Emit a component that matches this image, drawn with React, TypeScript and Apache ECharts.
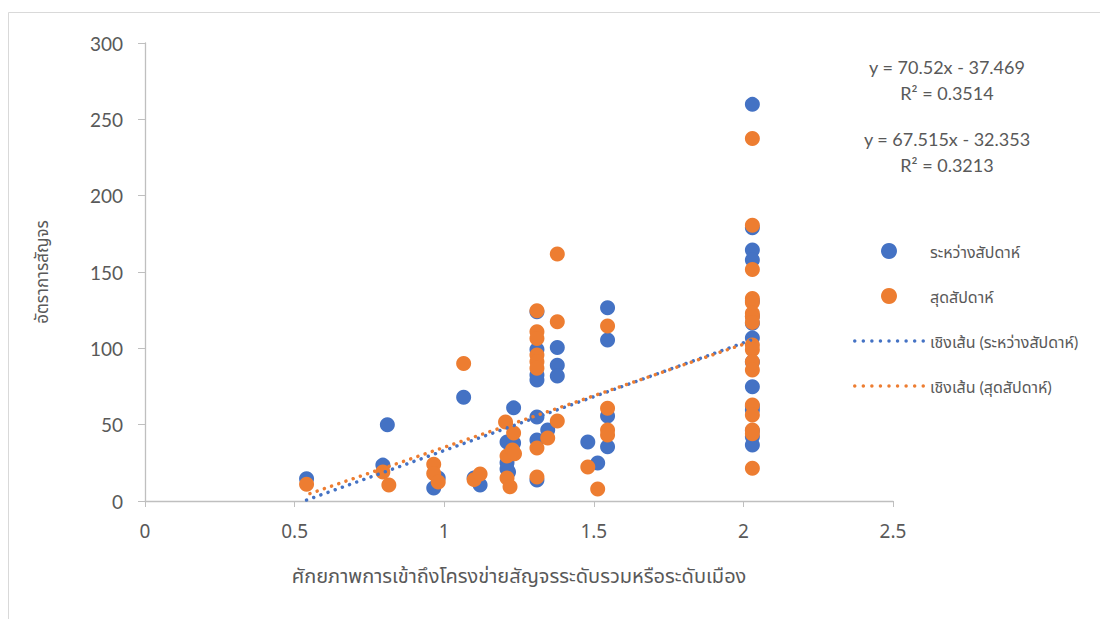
import React, { useEffect, useRef } from "react";
import * as echarts from "echarts";

// ---- data ----
const xTicks = [0, 0.5, 1, 1.5, 2, 2.5];
const yTicks = [0, 50, 100, 150, 200, 250, 300];

const seriesNames = ["ระหว่างสัปดาห์", "สุดสัปดาห์"];
const trendNames = ["เชิงเส้น (ระหว่างสัปดาห์)", "เชิงเส้น (สุดสัปดาห์)"];

// weekday (blue) points [x, y]
const weekdayPoints: [number, number][] = [
  [0.54, 14.5], [0.795, 23.5], [0.81, 50], [0.965, 8.5], [0.98, 15],
  [1.065, 68], [1.1, 15], [1.12, 10.5],
  [1.21, 38.6], [1.21, 25], [1.21, 21], [1.215, 19], [1.232, 61], [1.232, 38],
  [1.31, 124], [1.31, 99.3], [1.31, 82.5], [1.31, 79.2], [1.31, 55], [1.31, 40], [1.31, 13.7],
  [1.346, 46.5], [1.378, 100.6], [1.378, 89], [1.378, 81.8],
  [1.48, 38.6], [1.513, 24.9],
  [1.546, 126.6], [1.546, 105.4], [1.546, 55.7], [1.546, 35.6],
  [2.03, 259.8], [2.03, 179], [2.03, 164.4], [2.03, 157.8], [2.03, 131], [2.03, 121],
  [2.03, 116.4], [2.03, 106.7], [2.03, 91], [2.03, 74.9], [2.03, 62], [2.03, 59.6],
  [2.03, 46], [2.03, 42.1], [2.03, 36.7],
];

// weekend (orange) points [x, y]
const weekendPoints: [number, number][] = [
  [0.54, 11], [0.795, 19], [0.815, 10.5], [0.965, 24], [0.965, 18], [0.98, 12.5],
  [1.065, 90], [1.1, 14], [1.12, 17.7],
  [1.205, 51.7], [1.21, 29.5], [1.21, 15], [1.22, 9.3], [1.232, 44.5], [1.228, 33.4], [1.235, 31],
  [1.31, 124.6], [1.31, 110.9], [1.31, 106.5], [1.31, 95.6], [1.31, 91.2], [1.31, 86.9],
  [1.31, 34.7], [1.31, 15.7],
  [1.346, 41.3], [1.378, 161.8], [1.378, 117.4], [1.378, 52.4],
  [1.48, 22.3], [1.513, 7.9],
  [1.546, 114.6], [1.546, 60.7], [1.546, 46.5], [1.546, 43.2],
  [2.03, 237.5], [2.03, 180.7], [2.03, 151.7], [2.03, 132.7], [2.03, 130], [2.03, 122.9],
  [2.03, 120.7], [2.03, 117], [2.03, 102.2], [2.03, 99], [2.03, 91.2], [2.03, 85.8],
  [2.03, 62.9], [2.03, 56.3], [2.03, 46.5], [2.03, 44], [2.03, 21.4],
];

// linear trend coefficients shown on the chart
const weekdayTrend = [70.52, -37.469, 0.3514]; // slope, intercept, R²
const weekendTrend = [67.515, -32.353, 0.3213];

const xTitle = "ศักยภาพการเข้าถึงโครงข่ายสัญจรระดับรวมหรือระดับเมือง";
const yTitle = "อัตราการสัญจร";

const BLUE = "#4472C4";
const ORANGE = "#ED7D31";
const TEXT = "#595959";
const FONT = "Lato, 'Noto Sans Thai', Loma, Garuda, 'Noto Sans', sans-serif";
const NARROW = "'Liberation Sans Narrow', 'Noto Sans Thai', Loma, 'Noto Sans', sans-serif";

// dotted-line legend icon: 9 round dots in a row
function dottedIcon() {
  const r = 1.75;
  let d = "";
  for (let i = 0; i < 9; i++) {
    const cx = r + i * 8.5;
    d += `M${cx - r},${r} a${r},${r} 0 1,0 ${2 * r},0 a${r},${r} 0 1,0 ${-2 * r},0 Z `;
  }
  return "path://" + d.trim();
}

function trendLine(points: [number, number][], coef: number[]) {
  const xs = points.map((p) => p[0]);
  const x0 = Math.min(...xs);
  const x1 = Math.max(...xs);
  return [
    [x0, coef[0] * x0 + coef[1]],
    [x1, coef[0] * x1 + coef[1]],
  ];
}

function eqText(coef: number[]) {
  const sign = coef[1] < 0 ? "-" : "+";
  return `y = ${coef[0]}x ${sign} ${Math.abs(coef[1])}\nR² = ${coef[2]}`;
}

export default function App() {
  const ref = useRef<HTMLDivElement>(null);

  useEffect(() => {
    if (!ref.current) return;
    const chart = echarts.init(ref.current, undefined, { renderer: "svg" });
    const dotted = { width: 3.5, type: [0.01, 7.6] as any, cap: "round" as any };
    const icon = dottedIcon();
    chart.setOption({
      animation: false,
      backgroundColor: "#ffffff",
      grid: { left: 145, right: 215, top: 43, bottom: 118 },
      xAxis: {
        type: "value",
        min: xTicks[0],
        max: xTicks[xTicks.length - 1],
        interval: xTicks[1] - xTicks[0],
        name: xTitle,
        nameLocation: "middle",
        nameGap: 66,
        nameTextStyle: { fontSize: 20, color: TEXT, fontFamily: NARROW },
        axisLine: { show: true, lineStyle: { color: "#BFBFBF", width: 1.3 } },
        axisTick: { show: true, length: 6, lineStyle: { color: "#BFBFBF" } },
        axisLabel: { fontSize: 19, color: TEXT, margin: 22, fontFamily: NARROW },
        splitLine: { show: false },
      },
      yAxis: {
        type: "value",
        min: yTicks[0],
        max: yTicks[yTicks.length - 1],
        interval: yTicks[1] - yTicks[0],
        name: yTitle,
        nameLocation: "middle",
        nameGap: 95,
        nameTextStyle: { fontSize: 17, color: TEXT, fontFamily: FONT },
        axisLine: { show: true, lineStyle: { color: "#BFBFBF", width: 1.3 } },
        axisTick: { show: true, length: 7, lineStyle: { color: "#BFBFBF" } },
        axisLabel: { fontSize: 19, color: TEXT, margin: 22, fontFamily: FONT },
        splitLine: { show: false },
      },
      legend: {
        orient: "vertical",
        left: 848,
        top: 238,
        itemWidth: 72,
        itemHeight: 16,
        itemGap: 29,
        textStyle: { fontSize: 16, color: TEXT, fontFamily: FONT },
        data: [
          { name: seriesNames[0], icon: "circle" },
          { name: seriesNames[1], icon: "circle" },
          { name: trendNames[0], icon },
          { name: trendNames[1], icon },
        ],
      },
      series: [
        {
          name: seriesNames[0],
          type: "scatter",
          symbolSize: 15,
          itemStyle: { color: BLUE, opacity: 1 },
          data: weekdayPoints,
        },
        {
          name: seriesNames[1],
          type: "scatter",
          symbolSize: 15,
          itemStyle: { color: ORANGE, opacity: 1 },
          data: weekendPoints,
        },
        {
          name: trendNames[0],
          type: "line",
          symbol: "none",
          itemStyle: { color: BLUE },
          lineStyle: { color: BLUE, ...dotted },
          data: trendLine(weekdayPoints, weekdayTrend),
          z: 5,
        },
        {
          name: trendNames[1],
          type: "line",
          symbol: "none",
          itemStyle: { color: ORANGE },
          lineStyle: { color: ORANGE, ...dotted, dashOffset: 3.8 },
          data: trendLine(weekendPoints, weekendTrend),
          z: 6,
        },
      ],
      graphic: [
        {
          type: "polyline",
          silent: true,
          shape: { points: [[8.5, 619], [8.5, 12.5], [1100, 12.5]] },
          style: { stroke: "#D9D9D9", fill: "none", lineWidth: 1 },
        },
        {
          type: "text",
          x: 947,
          y: 54,
          style: {
            text: eqText(weekdayTrend),
            fontSize: 18,
            lineHeight: 26,
            fill: TEXT,
            fontFamily: FONT,
            align: "center",
            verticalAlign: "top",
          },
        },
        {
          type: "text",
          x: 947,
          y: 126,
          style: {
            text: eqText(weekendTrend),
            fontSize: 18,
            lineHeight: 26,
            fill: TEXT,
            fontFamily: FONT,
            align: "center",
            verticalAlign: "top",
          },
        },
      ],
    });
    return () => chart.dispose();
  }, []);

  return (
    <div
      ref={ref}
      style={{ position: "absolute", left: 0, top: 0, width: 1108, height: 619 }}
    />
  );
}
